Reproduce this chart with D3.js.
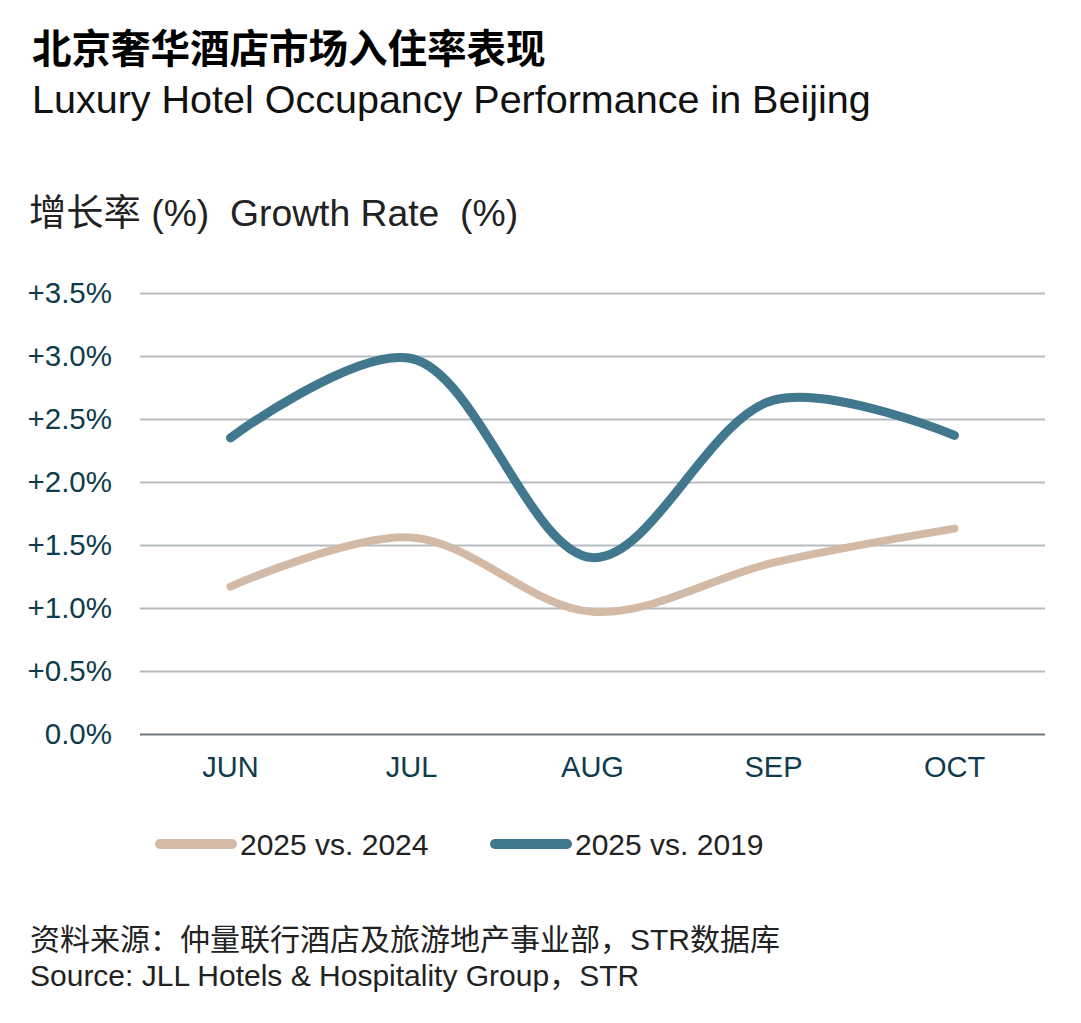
<!DOCTYPE html>
<html><head><meta charset="utf-8">
<script src="https://cdn.jsdelivr.net/npm/d3@7"></script>
<style>
body{margin:0;background:#fff;}
svg{display:block;font-family:"Liberation Sans",Arial,"Noto Sans CJK SC",sans-serif;}
</style></head><body>
<svg id="c" width="1081" height="1023"></svg>
<script>
const months = ["JUN","JUL","AUG","SEP","OCT"];
const s2024 = [1.17, 1.56, 0.97, 1.36, 1.63];
const s2019 = [2.35, 2.98, 1.40, 2.65, 2.37];
const seriesNames = ["2025 vs. 2024", "2025 vs. 2019"];
const yTicks = [0, 0.5, 1.0, 1.5, 2.0, 2.5, 3.0, 3.5];

const svg = d3.select("#c");
const W = 1081, H = 1023;
svg.append("rect").attr("width",W).attr("height",H).attr("fill","#fff");

const pL = 140, pR = 1045, pT = 293, pB = 734;
const x = d3.scaleBand().domain(months).range([pL,pR]);
const y = d3.scaleLinear().domain([0,3.5]).range([pB,pT]);

// titles
svg.append("text").attr("x",32).attr("y",63).attr("font-size",39.5).attr("font-weight","bold")
  .attr("font-family","'Noto Sans CJK SC',sans-serif").attr("fill","#000").text("北京奢华酒店市场入住率表现");
svg.append("text").attr("x",32).attr("y",113).attr("font-size",39.5).attr("fill","#111")
  .text("Luxury Hotel Occupancy Performance in Beijing");
svg.append("text").attr("x",29).attr("y",226).attr("font-size",37.3).attr("fill","#222")
  .attr("xml:space","preserve").text("增长率 (%)  Growth Rate  (%)");

// grid
const grid = svg.append("g").attr("transform",`translate(${pL},0)`)
  .call(d3.axisLeft(y).tickValues(yTicks).tickSize(-(pR-pL)).tickFormat(d => (d===0?"":"+") + d.toFixed(1) + "%").tickPadding(28));
grid.select(".domain").remove();
grid.selectAll(".tick line").attr("stroke", d => d===0 ? "#6e767b" : "#b5bdc1").attr("stroke-width",2);
grid.selectAll(".tick text").attr("font-size",29.5).attr("fill","#0e3c4c")
  .attr("font-family","'Liberation Sans',Arial,sans-serif");

// x axis
const xa = svg.append("g").attr("transform",`translate(0,${pB})`)
  .call(d3.axisBottom(x).tickSize(0).tickPadding(22));
xa.select(".domain").remove();
xa.selectAll(".tick text").attr("font-size",29).attr("fill","#0e3c4c")
  .attr("font-family","'Liberation Sans',Arial,sans-serif");

const line = d3.line().x((d,i)=>x(months[i])+x.bandwidth()/2).y(d=>y(d)).curve(d3.curveCatmullRom.alpha(0.5));
svg.append("path").attr("d",line(s2024)).attr("fill","none").attr("stroke","#d2baa6")
  .attr("stroke-width",8).attr("stroke-linecap","round");
svg.append("path").attr("d",line(s2019)).attr("fill","none").attr("stroke","#41788e")
  .attr("stroke-width",9).attr("stroke-linecap","round");

// legend
const leg = [{n:seriesNames[0],c:"#d2baa6",x:160},{n:seriesNames[1],c:"#41788e",x:495}];
leg.forEach(l=>{
  svg.append("line").attr("x1",l.x).attr("x2",l.x+72).attr("y1",844).attr("y2",844)
    .attr("stroke",l.c).attr("stroke-width",10).attr("stroke-linecap","round");
  svg.append("text").attr("x",l.x+80).attr("y",855).attr("font-size",30).attr("fill","#222").text(l.n);
});

// footer
svg.append("text").attr("x",30).attr("y",950).attr("font-size",30).attr("fill","#222")
  .text("资料来源：仲量联行酒店及旅游地产事业部，STR数据库");
svg.append("text").attr("x",30).attr("y",986).attr("font-size",30).attr("fill","#222")
  .text("Source: JLL Hotels & Hospitality Group，STR");
</script></body></html>
